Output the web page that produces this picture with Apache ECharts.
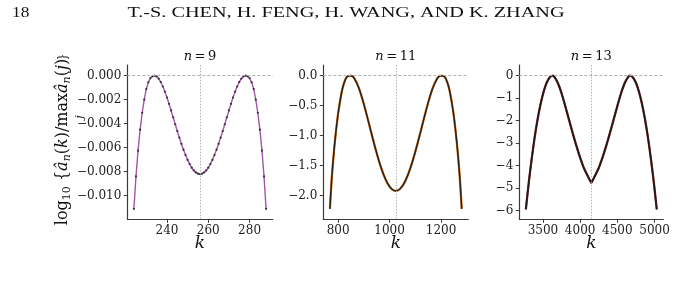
<!DOCTYPE html>
<html><head><meta charset="utf-8">
<script src="https://cdn.jsdelivr.net/npm/echarts@6/dist/echarts.min.js"></script>
<style>html,body{margin:0;padding:0;background:#fff}#c{width:680px;height:286px}</style>
</head><body><div id="c"></div>
<script>
// ---- data ----
var k9 = [224,225,226,227,228,229,230,231,232,233,234,235,236,237,238,239,240,241,242,243,244,245,246,247,248,249,250,251,252,253,254,255,256,
          257,258,259,260,261,262,263,264,265,266,267,268,269,270,271,272,273,274,275,276,277,278,279,280,281,282,283,284,285,286,287,288];
var v9 = [-0.01110,-0.00840,-0.00625,-0.00450,-0.00310,-0.00200,-0.00112,-0.00055,-0.00020,-0.00005,0.00000,-0.00007,-0.00025,-0.00053,-0.00090,-0.00133,-0.00182,-0.00235,-0.00290,-0.00347,-0.00405,-0.00461,-0.00516,-0.00568,-0.00617,-0.00662,-0.00702,-0.00737,-0.00767,-0.00790,-0.00806,-0.00817,-0.00820,
          -0.00817,-0.00806,-0.00790,-0.00767,-0.00737,-0.00702,-0.00662,-0.00617,-0.00568,-0.00516,-0.00461,-0.00405,-0.00347,-0.00290,-0.00235,-0.00182,-0.00133,-0.00090,-0.00053,-0.00025,-0.00007,0.00000,-0.00005,-0.00020,-0.00055,-0.00112,-0.00200,-0.00310,-0.00450,-0.00625,-0.00840,-0.01110];
var k11 = [768,772,776,784,792,800,808,816,824,832,840,849,856,864,880,896,912,928,944,960,976,992,1008,1024,
           1040,1056,1072,1088,1104,1120,1136,1152,1168,1184,1192,1199,1208,1216,1224,1232,1240,1248,1256,1264,1272,1276,1280];
var v11 = [-2.220,-1.930,-1.665,-1.250,-0.910,-0.630,-0.410,-0.230,-0.110,-0.033,-0.006,0.000,-0.012,-0.052,-0.200,-0.415,-0.669,-0.938,-1.201,-1.441,-1.642,-1.794,-1.888,-1.920,
           -1.888,-1.794,-1.642,-1.441,-1.201,-0.938,-0.669,-0.415,-0.200,-0.052,-0.012,0.000,-0.006,-0.033,-0.110,-0.230,-0.410,-0.630,-0.910,-1.250,-1.665,-1.930,-2.220];
var k13 = [3270,3310,3350,3390,3430,3470,3510,3550,3590,3625,3650,3700,3750,3800,3850,3900,3950,4000,4050,4100,4125,4140,4150,
           4160,4175,4200,4250,4300,4350,4400,4450,4500,4550,4600,4650,4675,4710,4750,4790,4830,4870,4910,4950,4990,5030];
var v13 = [-5.94,-4.73,-3.66,-2.71,-1.90,-1.23,-0.70,-0.31,-0.08,0.00,-0.04,-0.32,-0.78,-1.35,-1.95,-2.55,-3.12,-3.64,-4.10,-4.44,-4.61,-4.70,-4.75,
           -4.70,-4.61,-4.44,-4.10,-3.64,-3.12,-2.55,-1.95,-1.35,-0.78,-0.32,-0.04,0.00,-0.08,-0.31,-0.70,-1.23,-1.90,-2.71,-3.66,-4.73,-5.94];
var centers = [256, 1024, 4150];
var titles = ['9', '11', '13'];
var xTicks = [[240,260,280],[800,1000,1200],[3500,4000,4500,5000]];
var yTicks = [[0,-0.002,-0.004,-0.006,-0.008,-0.010],[0,-0.5,-1.0,-1.5,-2.0],[0,-1,-2,-3,-4,-5,-6]];
var yDecimals = [3, 1, 0];

// ---- layout ----
var gridLeft = [127.3, 323.3, 519.3];
var gridW = [145.4, 145, 144];
var xRange = [[220.8, 291.2], [742.4, 1305.6], [3182, 5118]];
var yRange = [[-0.01197, 0.00089], [-2.393, 0.178], [-6.38, 0.476]];

function pairs(ks, vs){ return ks.map(function(k,i){ return [k, vs[i]]; }); }
var datas = [pairs(k9,v9), pairs(k11,v11), pairs(k13,v13)];
var tickFont = 'DejaVu Serif';

var grids = [], xAxes = [], yAxes = [], series = [];
for (var p = 0; p < 3; p++) {
  grids.push({left: gridLeft[p], top: 65, width: gridW[p], height: 154.3, containLabel: false, outerBoundsMode: 'none'});
  xAxes.push({
    type: 'value', gridIndex: p, min: xRange[p][0], max: xRange[p][1],
    axisLine: {show: true, onZero: false, lineStyle: {color: '#3a3a3a', width: 1.2}},
    axisTick: {show: true, length: 3.5, inside: false, customValues: xTicks[p], lineStyle: {color: '#3a3a3a', width: 1}},
    axisLabel: {show: true, customValues: xTicks[p], margin: 6, color: '#222', fontFamily: tickFont, fontSize: 12,
                formatter: function(v){ return String(Math.round(v)); }},
    splitLine: {show: false}
  });
  (function(dec){
  yAxes.push({
    type: 'value', gridIndex: p, min: yRange[p][0], max: yRange[p][1],
    axisLine: {show: true, onZero: false, lineStyle: {color: '#3a3a3a', width: 1.2}},
    axisTick: {show: true, length: 3.5, inside: false, customValues: yTicks[p], lineStyle: {color: '#3a3a3a', width: 1}},
    axisLabel: {show: true, customValues: yTicks[p], margin: 6, color: '#222', fontFamily: tickFont, fontSize: 12,
                formatter: function(v){ var s = Math.abs(v) < 1e-12 ? (0).toFixed(dec) : v.toFixed(dec); return s.replace('-', '\u2212'); }},
    splitLine: {show: false}
  });
  })(yDecimals[p]);
  // reference lines
  series.push({
    type: 'line', xAxisIndex: p, yAxisIndex: p, data: [], silent: true, z: 1,
    markLine: {silent: true, symbol: 'none', animation: false, label: {show: false},
      data: [
        {yAxis: 0, lineStyle: {color: '#b0b0b0', width: 1, type: [3, 2]}},
        {xAxis: centers[p], lineStyle: {color: '#b0b0b0', width: 1, type: [1.5, 1.5]}}
      ]}
  });
}
// n = 9 : purple line with small dark markers
series.push({type: 'line', xAxisIndex: 0, yAxisIndex: 0, data: datas[0], z: 3,
  symbol: 'circle', symbolSize: 2.2, showSymbol: true, itemStyle: {color: '#3d2a3f'},
  lineStyle: {color: '#a057a8', width: 1.4}, smooth: false});
// n = 11 : orange line under dense dark markers
series.push({type: 'line', xAxisIndex: 1, yAxisIndex: 1, data: datas[1], z: 3, symbol: 'none', smooth: 0.35,
  lineStyle: {color: '#d27a2a', width: 2.3}});
series.push({type: 'line', xAxisIndex: 1, yAxisIndex: 1, data: datas[1], z: 4, symbol: 'none', smooth: 0.35,
  lineStyle: {color: '#2c2118', width: 1.5}});
// n = 13 : reddish line under dense dark markers
series.push({type: 'line', xAxisIndex: 2, yAxisIndex: 2, data: datas[2], z: 3, symbol: 'none', smooth: 0.35,
  lineStyle: {color: '#7a3030', width: 2.3}});
series.push({type: 'line', xAxisIndex: 2, yAxisIndex: 2, data: datas[2], z: 4, symbol: 'none', smooth: 0.35,
  lineStyle: {color: '#231818', width: 1.6}});

var graphics = [
  {type: 'text', x: 12, y: 13, scaleX: 1.15, style: {text: '18', font: '15px "Liberation Serif"', fill: '#111', verticalAlign: 'middle'}},
  {type: 'text', x: 346, y: 13, scaleX: 1.35, style: {text: 'T.-S. CHEN, H. FENG, H. WANG, AND K. ZHANG', font: '15px "Liberation Serif"', fill: '#111', align: 'center', verticalAlign: 'middle'}},
  {type: 'text', x: 63, y: 140, rotation: Math.PI / 2,
    style: {align: 'center', verticalAlign: 'middle', fill: '#111',
      text: '{r|log}{s|10}{r| \u007b}{i|\u00e2}{si|n}{r|(}{i|k}{r|)/max}{i|\u00e2}{si|n}{r|(}{i|j}{r|)\u007d}',
      rich: {
        r: {fontFamily: 'DejaVu Serif', fontSize: 16, fill: '#111'},
        i: {fontFamily: 'DejaVu Serif', fontStyle: 'italic', fontSize: 16, fill: '#111'},
        s: {fontFamily: 'DejaVu Serif', fontSize: 11, fill: '#111', padding: [8, 0, 0, 0]},
        si: {fontFamily: 'DejaVu Serif', fontStyle: 'italic', fontSize: 11, fill: '#111', padding: [8, 0, 0, 0]}
      }}},
  {type: 'text', x: 80, y: 117, rotation: Math.PI / 2,
    style: {text: 'j', font: 'italic 11px "DejaVu Serif"', fill: '#111', align: 'center', verticalAlign: 'middle'}}
];
for (var q = 0; q < 3; q++) {
  var cx = gridLeft[q] + gridW[q] / 2;
  graphics.push({type: 'text', x: cx, y: 57,
    style: {align: 'center', verticalAlign: 'middle', text: '{i|n}{r|\u2009=\u2009' + titles[q] + '}',
      rich: {i: {fontFamily: 'DejaVu Serif', fontStyle: 'italic', fontSize: 13, fill: '#111'},
             r: {fontFamily: 'DejaVu Serif', fontSize: 13, fill: '#111'}}}});
  graphics.push({type: 'text', x: cx, y: 244,
    style: {align: 'center', verticalAlign: 'middle', text: 'k', font: 'italic 17px "DejaVu Serif"', fill: '#111'}});
}

var chart = echarts.init(document.getElementById('c'), null, {renderer: 'canvas'});
chart.setOption({
  animation: false, backgroundColor: '#fff',
  grid: grids, xAxis: xAxes, yAxis: yAxes, series: series, graphic: graphics
});
</script></body></html>
